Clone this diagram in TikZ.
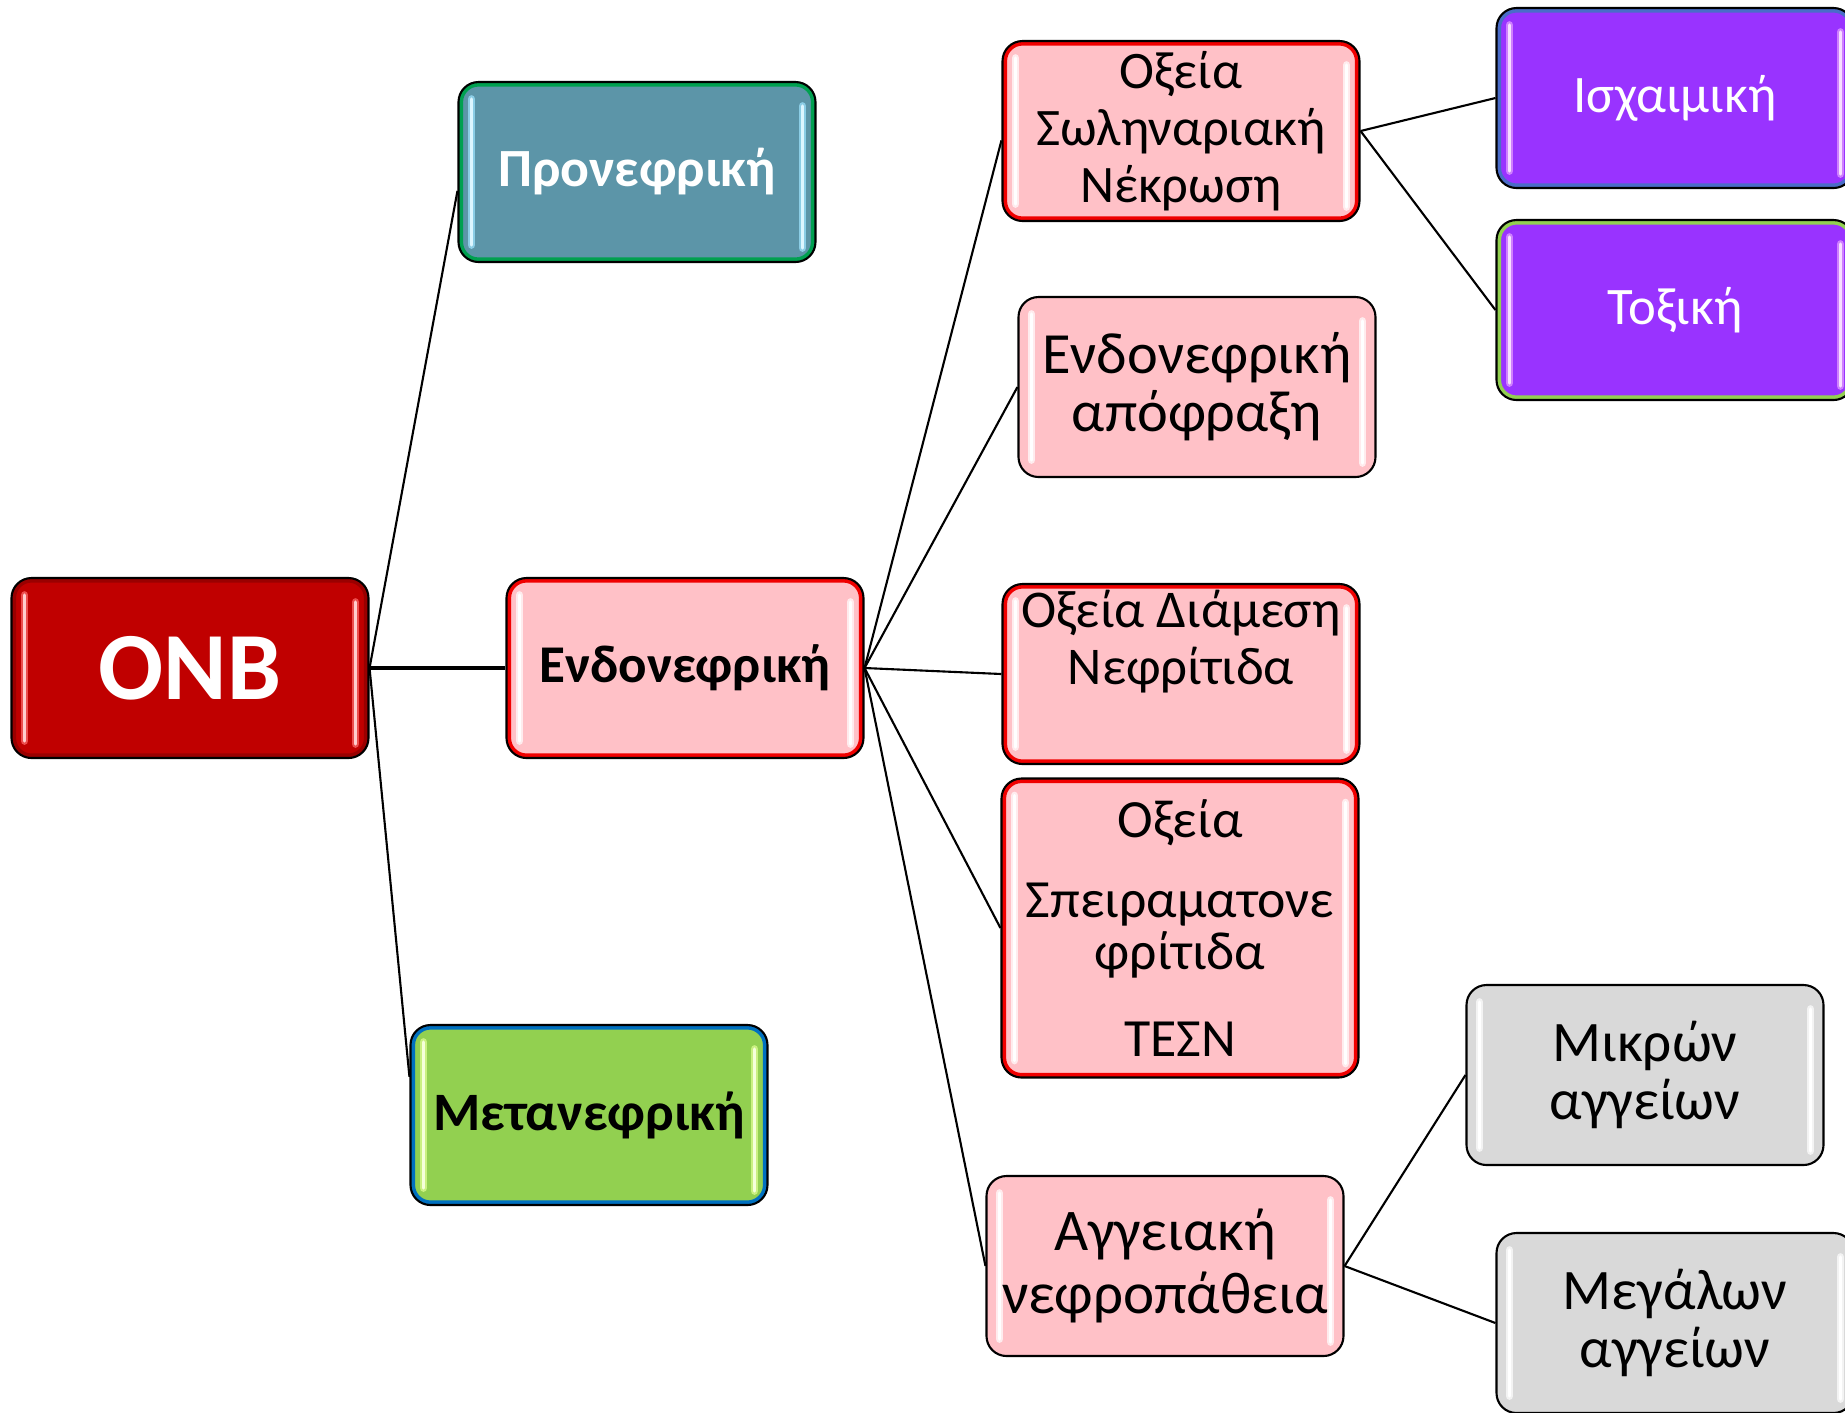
\documentclass[tikz,border=0pt]{standalone}
\usepackage{fontspec}
\setmainfont{Carlito}
\definecolor{onbred}{HTML}{C00000}
\definecolor{onbbar}{HTML}{FF6F6F}
\definecolor{tealfill}{HTML}{5C95A8}
\definecolor{tealrim}{HTML}{00A050}
\definecolor{tealbar}{HTML}{9FE6FF}
\definecolor{pinkfill}{HTML}{FFC1C7}
\definecolor{pinkrim}{HTML}{F00000}
\definecolor{greenfill}{HTML}{92D050}
\definecolor{greenrim}{HTML}{0070C0}
\definecolor{greenbar}{HTML}{E2FF96}
\definecolor{purplefill}{HTML}{9933FF}
\definecolor{purplebar}{HTML}{E7A2FF}
\definecolor{bluerim}{HTML}{4A6CC8}
\definecolor{limerim}{HTML}{92D050}
\definecolor{grayfill}{HTML}{D9D9D9}
\tikzset{
  box/.style={rectangle, rounded corners=2mm, draw=black, line width=0.6pt,
    minimum width=35.7mm, minimum height=18mm, inner sep=0pt, align=center},
  gloss/.style n args={3}{fill=#1, path picture={
      \draw[draw=#2, line width=2.6pt, rounded corners=2mm]
        (path picture bounding box.south west) rectangle (path picture bounding box.north east);
      \draw[#3, line width=2.2pt, line cap=round, opacity=0.7]
        ([shift={(1.3mm,-1.7mm)}]path picture bounding box.north west)
        -- ([shift={(1.3mm,1.7mm)}]path picture bounding box.south west);
      \draw[#3, line width=2.2pt, line cap=round, opacity=0.7]
        ([shift={(-1.3mm,-2.4mm)}]path picture bounding box.north east)
        -- ([shift={(-1.3mm,1.4mm)}]path picture bounding box.south east);
      \draw[#3!35!white, line width=0.9pt, line cap=round]
        ([shift={(1.3mm,-1.7mm)}]path picture bounding box.north west)
        -- ([shift={(1.3mm,1.7mm)}]path picture bounding box.south west);
      \draw[#3!35!white, line width=0.9pt, line cap=round]
        ([shift={(-1.3mm,-2.4mm)}]path picture bounding box.north east)
        -- ([shift={(-1.3mm,1.4mm)}]path picture bounding box.south east);}},
  rootbox/.style={box, gloss={onbred}{onbred!80!black}{onbbar}, text=white,
    font=\fontsize{27.4}{33}\selectfont\bfseries},
  prebox/.style={box, gloss={tealfill}{tealrim}{tealbar}, text=white,
    font=\fontsize{15.3}{18}\selectfont\bfseries},
  postbox/.style={box, gloss={greenfill}{greenrim}{greenbar},
    font=\fontsize{15.4}{18}\selectfont\bfseries},
  pinkbox/.style={box, gloss={pinkfill}{pinkrim}{white}},
  plainbox/.style={box, gloss={pinkfill}{none}{white}},
  purplebox/.style={box, gloss={purplefill}{#1}{purplebar}, text=white,
    font=\fontsize{15}{18}\selectfont},
  graybox/.style={box, gloss={grayfill}{none}{white},
    font=\fontsize{16.3}{16.5}\selectfont},
  link/.style={draw=black, line width=0.6pt}
}
\begin{document}
\begin{tikzpicture}[x=0.1mm, y=-0.1mm]
  \useasboundingbox (0,0) rectangle (1845,1412);
  % first level
  \node[rootbox] (onb) at (190,668) {ONB};
  \node[prebox] (pre) at (637,172) {Προνεφρική};
  \node[pinkbox, font=\fontsize{15.1}{18}\selectfont\bfseries] (endo) at (685,668) {Ενδονεφρική};
  \node[postbox] (post) at (589,1115) {Μετανεφρική};
  % intrarenal causes
  \node[pinkbox, font=\fontsize{15}{16.2}\selectfont] (atn) at (1181,131)
    {Οξεία\\Σωληναριακή\\Νέκρωση};
  \node[plainbox, font=\fontsize{16.6}{16.5}\selectfont] (obs) at (1197,387)
    {Ενδονεφρική\\απόφραξη};
  \node[pinkbox, font=\fontsize{15.1}{16.2}\selectfont] (ain) at (1181,674)
    {Οξεία Διάμεση\\Νεφρίτιδα\\\strut};
  \node[pinkbox, minimum height=29.9mm, font=\fontsize{15.3}{14.8}\selectfont] (gn) at (1180,928)
    {Οξεία\\[8pt]Σπειραματονε\\φρίτιδα\\[10pt]ΤΕΣΝ};
  \node[plainbox, font=\fontsize{16.8}{18}\selectfont] (vasc) at (1165,1266)
    {Αγγειακή\\νεφροπάθεια};
  % third level
  \node[purplebox=bluerim] (isch) at (1675,98) {Ισχαιμική};
  \node[purplebox=limerim] (tox) at (1675,310) {Τοξική};
  \node[graybox] (small) at (1645,1075) {Μικρών\\αγγείων};
  \node[graybox] (large) at (1675,1323) {Μεγάλων\\αγγείων};
  % connectors
  \draw[link] (onb.east) -- (pre.186);
  \draw[link, line width=0.9pt] (onb.east) -- (endo.west);
  \draw[link] (onb.east) -- (post.168);
  \draw[link] (endo.east) -- (atn.183);
  \draw[link] (endo.east) -- (obs.west);
  \draw[link] (endo.east) -- (ain.west);
  \draw[link] (endo.east) -- (gn.west);
  \draw[link] (endo.east) -- (vasc.west);
  \draw[link] (atn.east) -- (isch.west);
  \draw[link] (atn.east) -- (tox.west);
  \draw[link] (vasc.east) -- (small.west);
  \draw[link] (vasc.east) -- (large.west);
\end{tikzpicture}
\end{document}
